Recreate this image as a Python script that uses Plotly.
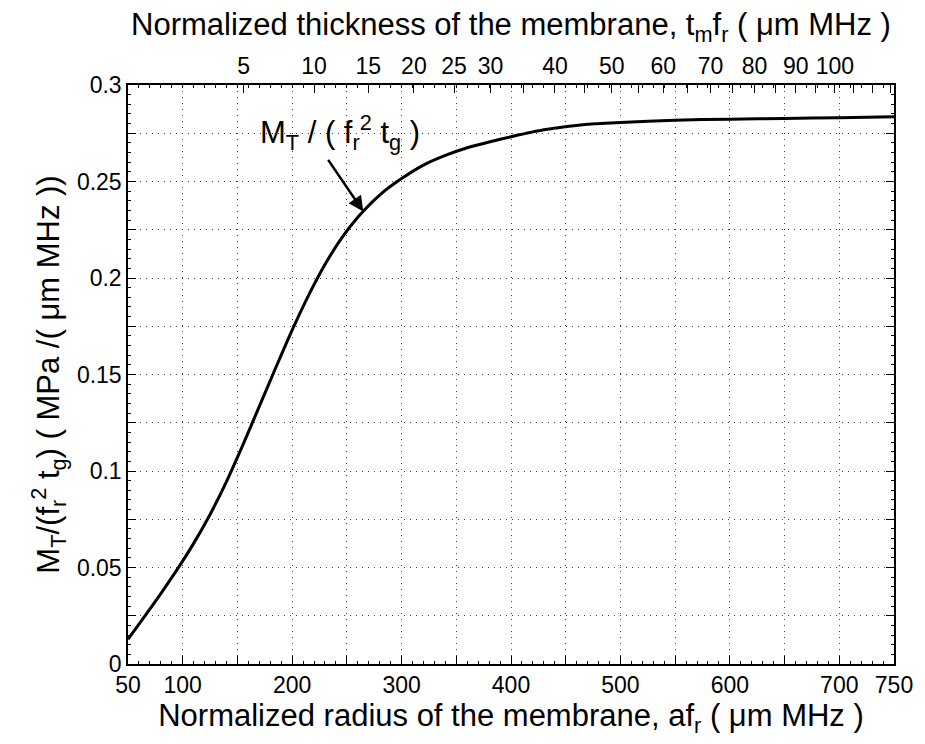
import numpy as np
import plotly.graph_objects as go

# Normalized radius a*f_r (um MHz) and M_T/(f_r^2 t_g)
radius = [50, 65, 80, 95, 110, 125, 140, 155, 170, 185, 200, 215, 230, 245, 260,
          280, 300, 320, 340, 360, 380, 400, 430, 470, 500, 550, 600, 650, 700, 750]
mt_norm = [0.0128, 0.0245, 0.0365, 0.0490, 0.0625, 0.0775, 0.0945, 0.1135, 0.1335,
           0.1535, 0.1730, 0.1910, 0.2070, 0.2205, 0.2315, 0.2430, 0.2515, 0.2585,
           0.2635, 0.2675, 0.2705, 0.2732, 0.2768, 0.2797, 0.2806, 0.2818, 0.2823,
           0.2827, 0.2830, 0.2835]

# bottom axis ticks
x_tickvals = list(range(50, 751, 50))
x_labels = {50: "50", 100: "100", 200: "200", 300: "300", 400: "400",
            500: "500", 600: "600", 700: "700", 750: "750"}
x_ticktext = [x_labels.get(v, "") for v in x_tickvals]

# top axis: thickness t_m f_r, related to radius by a = K*sqrt(t)
K_TOP = 69.6
top_ticks = list(range(5, 116, 5))
top_labels = {5: "5", 10: "10", 15: "15", 20: "20", 25: "25", 30: "30", 40: "40",
              50: "50", 60: "60", 70: "70", 80: "80", 90: "90", 100: "100"}
top_tickvals = [K_TOP * np.sqrt(t) for t in top_ticks]
top_ticktext = [top_labels.get(t, "") for t in top_ticks]

# y axis ticks
y_tickvals = [round(0.025 * i, 3) for i in range(13)]
y_ticktext = [("0" if v == 0 else f"{v:g}") if abs((v / 0.05) - round(v / 0.05)) < 1e-9 else ""
              for v in y_tickvals]

FONT = "Arial, Liberation Sans, sans-serif"
TICK_SIZE = 23
TITLE_SIZE = 31
GRID = dict(showgrid=True, gridcolor="#444", gridwidth=1, griddash="1px,5px")

fig = go.Figure()
fig.add_trace(go.Scatter(x=radius, y=mt_norm, mode="lines",
                         line=dict(color="black", width=3, shape="spline", smoothing=0.6),
                         showlegend=False, hoverinfo="skip"))
fig.add_trace(go.Scatter(x=radius, y=mt_norm, mode="markers", xaxis="x2",
                         marker=dict(opacity=0), showlegend=False, hoverinfo="skip"))

fig.add_annotation(x=244, y=0.2752, xref="x", yref="y", showarrow=False,
                   text="M<sub>T</sub> / ( f<sub>r</sub><sup>2</sup> t<sub>g</sub> )",
                   font=dict(size=TITLE_SIZE, color="black", family=FONT))
fig.add_annotation(x=265, y=0.2345, ax=232, ay=0.262, xref="x", yref="y",
                   axref="x", ayref="y", showarrow=True, arrowhead=2,
                   arrowsize=1.2, arrowwidth=2.5, arrowcolor="black", text="")

fig.update_layout(
    width=925, height=744,
    margin=dict(l=128, r=22, t=85, b=80),
    paper_bgcolor="white", plot_bgcolor="white",
    font=dict(family=FONT, size=TICK_SIZE, color="black"),
    xaxis=dict(range=[50, 750], tickvals=x_tickvals, ticktext=x_ticktext,
               ticks="inside", ticklen=8, tickwidth=1.2, tickcolor="black",
               showline=True, linecolor="black", linewidth=1.5, mirror=True,
               zeroline=False, tickfont=dict(size=TICK_SIZE, family=FONT),
               minor=dict(dtick=10, ticks="inside", ticklen=3, tickcolor="black",
                          showgrid=False),
               title=dict(text="Normalized radius of the membrane, af<sub>r</sub> ( μm MHz )",
                          font=dict(size=TITLE_SIZE, family=FONT), standoff=2),
               **GRID),
    xaxis2=dict(range=[50, 750], overlaying="x", side="top",
                tickvals=top_tickvals, ticktext=top_ticktext,
                ticks="inside", ticklen=8, tickwidth=1.2, tickcolor="black",
                showline=True, linecolor="black", linewidth=1.5,
                showgrid=False, zeroline=False, tickfont=dict(size=TICK_SIZE, family=FONT),
                minor=dict(dtick=10, ticks="inside", ticklen=3, tickcolor="black",
                           showgrid=False),
                title=dict(text="Normalized thickness of the membrane, t<sub>m</sub>f<sub>r</sub> ( μm MHz )",
                           font=dict(size=TITLE_SIZE, family=FONT), standoff=8)),
    yaxis=dict(range=[0, 0.3], tickvals=y_tickvals, ticktext=y_ticktext,
               ticks="inside", ticklen=8, tickwidth=1.2, tickcolor="black",
               showline=True, linecolor="black", linewidth=1.5, mirror="ticks",
               zeroline=False, tickfont=dict(size=TICK_SIZE, family=FONT),
               minor=dict(dtick=0.005, ticks="inside", ticklen=3, tickcolor="black",
                          showgrid=False),
               title=dict(text="M<sub>T</sub>/(f<sub>r</sub><sup>2</sup> t<sub>g</sub>) ( MPa /( μm MHz ))",
                          font=dict(size=TITLE_SIZE, family=FONT), standoff=8),
               **GRID),
)

fig.write_html("out.html")
